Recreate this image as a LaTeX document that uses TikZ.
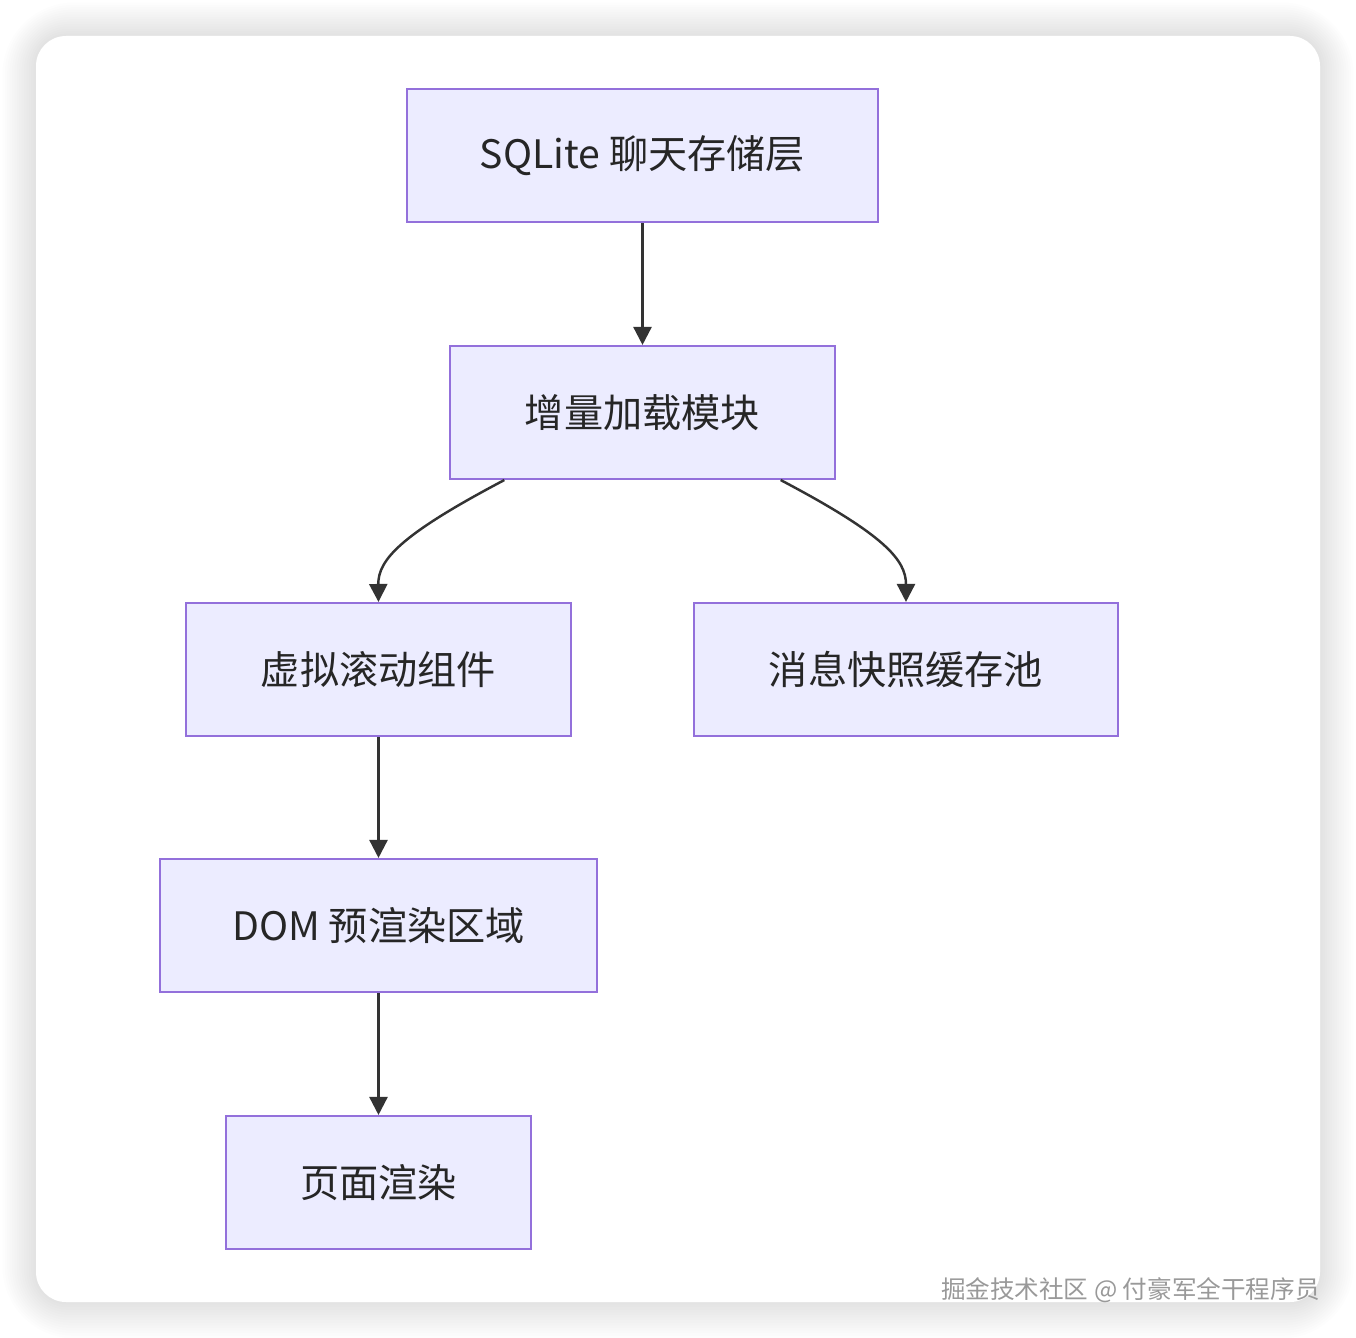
\documentclass[tikz,border=0pt]{standalone}
\usepackage{fontspec}
\setmainfont{Noto Sans CJK SC}
\usetikzlibrary{arrows.meta,calc}

\tikzset{
  flowbox/.style={draw=boxline,fill=boxfill,line width=1.2pt,minimum height=2.66cm,
    inner sep=0pt,font=\fontsize{22.3pt}{25pt}\selectfont,text=black!85},
  flowarrow/.style={draw=arrowgray,line width=1.4pt,-{Triangle[length=0.36cm,width=0.36cm]}}
}
\definecolor{boxfill}{HTML}{ECECFF}
\definecolor{boxline}{HTML}{9370DB}
\definecolor{arrowgray}{HTML}{333333}

\begin{document}
\begin{tikzpicture}[x=0.02cm,y=-0.02cm]
    \useasboundingbox (0,0) rectangle (1356,1338);
    % card shadow
    \foreach \i in {1,...,14}
      \fill [black,opacity=0.008,rounded corners=0.6cm+\i*0.06cm]
        (36-\i*2.4,36-\i*2.4) rectangle (1320+\i*2.4,1302+\i*2.6);
    \fill [white,rounded corners=0.6cm] (36,36) rectangle (1320,1302);

    \node [flowbox,minimum width=9.42cm] (sql) at (642.5,155.5) {SQLite 聊天存储层};
    \node [flowbox,minimum width=7.70cm] (inc) at (642.5,412.5) {增量加载模块};
    \node [flowbox,minimum width=7.70cm] (vs) at (378.5,669.5) {虚拟滚动组件};
    \node [flowbox,minimum width=8.48cm] (snap) at (906,669.5) {消息快照缓存池};
    \node [flowbox,minimum width=8.74cm] (dom) at (378.5,925.5) {DOM 预渲染区域};
    \node [flowbox,minimum width=6.10cm] (page) at (378.5,1182.5) {页面渲染};

    \coordinate (incl) at ($(inc.south west)!0.143!(inc.south east)$);
    \coordinate (incr) at ($(inc.south west)!0.857!(inc.south east)$);

    \draw [flowarrow] (sql.south)--(inc.north);
    \draw [flowarrow] (incl) .. controls (400,535) and (378,560) .. (vs.north);
    \draw [flowarrow] (incr) .. controls (885,535) and (906,560) .. (snap.north);
    \draw [flowarrow] (vs.south)--(dom.north);
    \draw [flowarrow] (dom.south)--(page.north);

    \node [anchor=east,inner sep=0pt,font=\fontsize{14pt}{16pt}\selectfont,text=gray!80] (mark) at (1320,1290)
      {掘金技术社区 @ 付豪军全干程序员};
\end{tikzpicture}
\end{document}
